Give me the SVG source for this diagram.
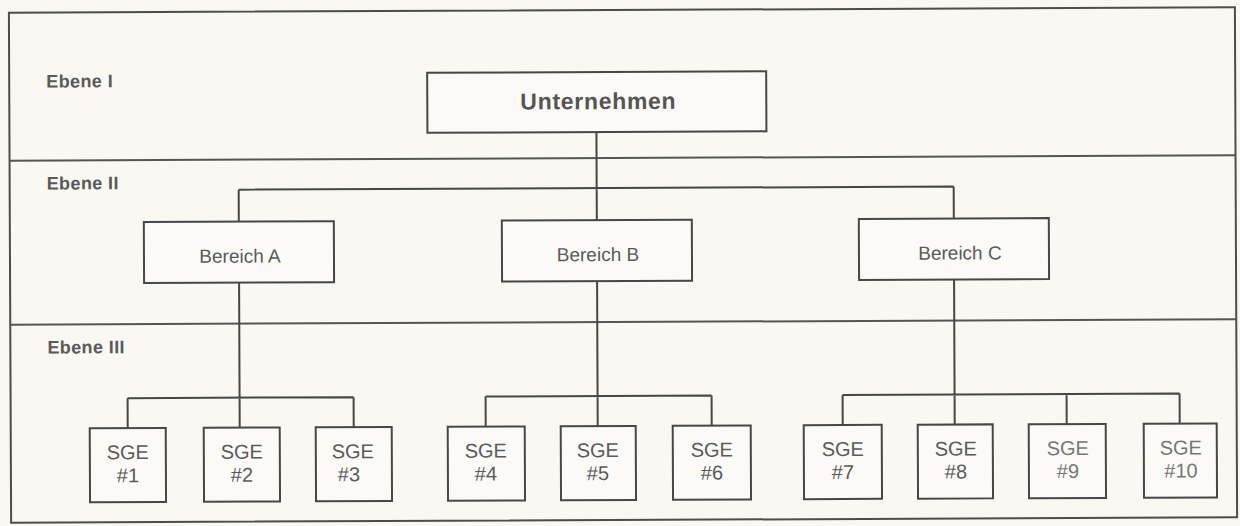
<svg xmlns="http://www.w3.org/2000/svg" width="1240" height="526" viewBox="0 0 1240 526">
  <style>
    .frame { fill: none; stroke: #4d4d4d; stroke-width: 2; }
    .sep { fill: none; stroke: #555; stroke-width: 2; }
    .box { fill: #fbfaf6; stroke: #474747; stroke-width: 2; }
    .link { fill: none; stroke: #474747; stroke-width: 2; }
    .lvl { font-family: "Liberation Sans", Arial, sans-serif; font-weight: bold; font-size: 18px; letter-spacing: 0.4px; fill: #5a5a5a; }
    .top { font-family: "Liberation Sans", Arial, sans-serif; font-weight: bold; font-size: 23px; letter-spacing: 0.7px; fill: #555; text-anchor: middle; }
    .mid { font-family: "Liberation Sans", Arial, sans-serif; font-size: 19px; fill: #5a5a5a; text-anchor: middle; }
    .sge { font-family: "Liberation Sans", Arial, sans-serif; font-size: 20px; fill: #5a5a5a; text-anchor: middle; }
    .pale { fill: #777; }
  </style>

  <rect x="0" y="0" width="1240" height="526" fill="#f9f8f2"/>

  <!-- the whole chart sits very slightly rotated on the page -->
  <g transform="rotate(-0.25 620 263)">
    <!-- outer frame and level separators -->
    <g id="frame">
      <rect class="frame" x="10" y="10" width="1226" height="510" fill="#fbfaf5"/>
      <line class="sep" x1="10" y1="158" x2="1236" y2="158"/>
      <line class="sep" x1="10" y1="322" x2="1236" y2="322"/>
      <text class="lvl" x="47" y="85">Ebene I</text>
      <text class="lvl" x="47" y="187">Ebene II</text>
      <text class="lvl" x="47" y="351">Ebene III</text>
    </g>

    <!-- connectors -->
    <g id="connectors">
      <path class="link" d="M597 132 V188 M239 188 H954 M239 188 V220 M597 188 V220 M954 188 V220"/>
      <path class="link" d="M239 281 V426 M127 396 H353 M127 396 V426 M353 396 V426"/>
      <path class="link" d="M597 281 V426 M485 396 H711 M485 396 V426 M711 396 V426"/>
      <path class="link" d="M954 281 V426 M842 396 H1179 M842 396 V426 M1066 396 V426 M1179 396 V426"/>
    </g>

    <g id="unternehmen">
      <rect class="box" x="428" y="72" width="339" height="60"/>
      <text class="top" x="599" y="109">Unternehmen</text>
    </g>

    <g id="bereich-a">
      <rect class="box" x="144" y="220" width="190" height="61"/>
      <text class="mid" x="240" y="261">Bereich A</text>
    </g>
    <g id="bereich-b">
      <rect class="box" x="502" y="220" width="190" height="61"/>
      <text class="mid" x="598" y="261">Bereich B</text>
    </g>
    <g id="bereich-c">
      <rect class="box" x="859" y="220" width="190" height="61"/>
      <text class="mid" x="960" y="261" fill="#6a6a6a">Bereich C</text>
    </g>

    <g id="sge-1">
      <rect class="box" x="89" y="426" width="76" height="74"/>
      <text class="sge" x="127" y="457">SGE</text>
      <text class="sge" x="127" y="480">#1</text>
    </g>
    <g id="sge-2">
      <rect class="box" x="203" y="426" width="76" height="74"/>
      <text class="sge" x="241" y="457">SGE</text>
      <text class="sge" x="241" y="480">#2</text>
    </g>
    <g id="sge-3">
      <rect class="box" x="315" y="426" width="76" height="74"/>
      <text class="sge" x="352" y="457">SGE</text>
      <text class="sge" x="348" y="480">#3</text>
    </g>
    <g id="sge-4">
      <rect class="box" x="447" y="426" width="77" height="74"/>
      <text class="sge" x="485" y="457">SGE</text>
      <text class="sge" x="485" y="480">#4</text>
    </g>
    <g id="sge-5">
      <rect class="box" x="560" y="426" width="75" height="74"/>
      <text class="sge" x="597" y="457">SGE</text>
      <text class="sge" x="597" y="480">#5</text>
    </g>
    <g id="sge-6">
      <rect class="box" x="672" y="426" width="78" height="74"/>
      <text class="sge" x="711" y="457">SGE</text>
      <text class="sge" x="711" y="480">#6</text>
    </g>
    <g id="sge-7">
      <rect class="box" x="803" y="426" width="78" height="74"/>
      <text class="sge" x="842" y="457">SGE</text>
      <text class="sge" x="842" y="480">#7</text>
    </g>
    <g id="sge-8">
      <rect class="box" x="917" y="426" width="75" height="74"/>
      <text class="sge" x="955" y="457">SGE</text>
      <text class="sge" x="955" y="480">#8</text>
    </g>
    <g id="sge-9">
      <rect class="box" x="1028" y="426" width="77" height="74"/>
      <text class="sge pale" x="1067" y="457">SGE</text>
      <text class="sge pale" x="1067" y="480">#9</text>
    </g>
    <g id="sge-10">
      <rect class="box" x="1143" y="426" width="73" height="74"/>
      <text class="sge pale" x="1180" y="457">SGE</text>
      <text class="sge pale" x="1180" y="480">#10</text>
    </g>
  </g>
</svg>
